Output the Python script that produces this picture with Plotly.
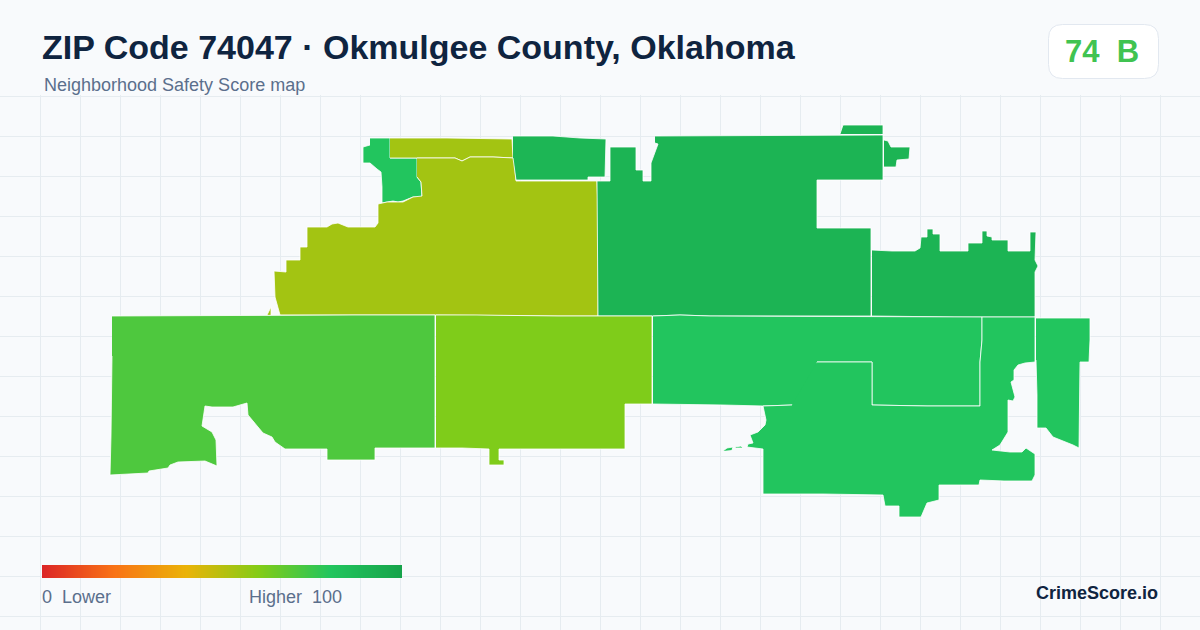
import plotly.graph_objects as go
from plotly.colors import sample_colorscale

# legend gradient, evenly spaced stops
scale_colors = ["#dc2626", "#f97316", "#eab308", "#84cc16", "#22c55e", "#16a34a"]
legend_scores = list(range(0, 101))

title_text = "ZIP Code 74047 · Okmulgee County, Oklahoma"
subtitle_text = "Neighborhood Safety Score map"
score_text = "74\u00a0\u00a0B"
brand_text = "CrimeScore.io"

# tract outlines
nw_x = [370, 390, 390, 417, 417, 421, 422, 413, 403, 398, 393, 382, 382, 381, 377, 370, 363, 363, 370]
nw_y = [138, 138, 158, 158, 177, 182, 197, 197, 201, 202, 201, 203, 187, 172, 169, 163, 163, 147, 145]

strip_x = [390, 447, 512, 513, 493, 470, 462, 455, 435, 417, 390]
strip_y = [138, 138, 139, 158, 157, 157, 161, 158, 158, 158, 158]

main_x = [417, 435, 455, 462, 470, 493, 514, 516, 597, 598, 598, 557, 477, 435, 357, 280, 275, 274, 286, 286,
          300, 300, 307, 307, 327, 332, 338, 348, 375, 378, 378, 387, 398, 403, 413, 422, 421, 417]
main_y = [158, 158, 158, 161, 157, 157, 158, 181, 181, 210, 316, 316, 315, 315, 315, 315, 297, 271, 272, 260,
          260, 247, 247, 227, 227, 224, 223, 227, 227, 223, 204, 202, 202, 202, 197, 196, 182, 177]

sliver_x = [267, 271, 271]
sliver_y = [315, 307, 315]

north_mid_x = [513, 553, 580, 606, 605, 588, 588, 516, 513]
north_mid_y = [136, 136, 138, 139, 177, 177, 180, 180, 158]

east_x = [655, 840, 883, 883, 817, 817, 871, 871, 710, 680, 653, 598, 597, 597, 610, 610, 636, 636, 643, 643, 651, 651, 658, 655]
east_y = [136, 135, 135, 180, 180, 228, 228, 316, 316, 315, 316, 316, 210, 181, 181, 147, 147, 170, 170, 181, 181, 163, 144, 143]

tab_x = [840, 843, 883, 883]
tab_y = [134, 125, 125, 134]

east_tab_x = [884, 888, 891, 910, 909, 897, 896, 884]
east_tab_y = [140, 141, 147, 147, 159, 160, 167, 167]

ne_x = [872, 892, 915, 920, 921, 927, 927, 933, 933, 940, 940, 968, 968, 982, 982, 987, 987, 992, 992, 1008,
        1008, 1030, 1030, 1036, 1035, 1038, 1035, 1035, 954, 872]
ne_y = [250, 251, 251, 248, 237, 237, 229, 229, 234, 234, 251, 251, 243, 243, 231, 231, 236, 237, 240, 240,
        251, 251, 232, 232, 260, 266, 272, 317, 317, 316]

sw_x = [112, 268, 355, 435, 435, 405, 375, 375, 327, 327, 292, 285, 275, 272, 263, 255, 248, 247, 233, 220, 212, 205,
        203, 202, 212, 216, 217, 205, 178, 170, 168, 149, 148, 130, 110, 111, 112]
sw_y = [316, 315, 315, 315, 448, 448, 448, 460, 460, 449, 449, 449, 442, 437, 433, 424, 415, 403, 407, 407, 407, 406,
        417, 426, 432, 440, 466, 461, 462, 465, 468, 471, 473, 474, 475, 436, 356]

mid_south_x = [436, 476, 558, 652, 652, 625, 625, 499, 499, 504, 504, 489, 489, 462, 436]
mid_south_y = [315, 315, 316, 316, 404, 404, 449, 449, 460, 460, 465, 465, 449, 448, 448]

se_top_x = [653, 680, 710, 982, 982, 980, 980, 927, 872, 872, 817, 817, 792, 763, 723, 653]
se_top_y = [316, 315, 316, 317, 340, 362, 406, 406, 405, 362, 362, 405, 405, 406, 405, 404]

se_big_x = [817, 872, 872, 927, 980, 980, 982, 982, 1035, 1035, 1025, 1018, 1014, 1014, 1011, 1015, 1013, 1008, 1008,
            1000, 992, 1010, 1022, 1026, 1035, 1035, 1032, 1004, 980, 979, 939, 939, 927, 921, 899, 899, 885, 883, 823,
            763, 763, 747, 748, 753, 750, 758, 765, 766, 763, 792]
se_big_y = [362, 362, 405, 406, 406, 362, 340, 317, 317, 362, 363, 365, 370, 380, 382, 397, 401, 400, 432,
            445, 450, 452, 452, 448, 454, 475, 481, 481, 480, 485, 485, 500, 503, 517, 517, 506, 506, 495, 494,
            494, 449, 447, 444, 443, 435, 432, 425, 420, 406, 405]

islet_a_x = [723, 727, 733, 732]
islet_a_y = [451, 448, 447, 450]

islet_b_x = [735, 741, 743, 737]
islet_b_y = [447, 446, 448, 448]

far_east_x = [1036, 1090, 1090, 1089, 1080, 1079, 1073, 1053, 1046, 1037, 1037, 1036]
far_east_y = [318, 318, 340, 362, 362, 448, 445, 437, 428, 428, 395, 360]

regions = [
    (nw_x, nw_y, 80),
    (strip_x, strip_y, 54),
    (main_x, main_y, 54),
    (sliver_x, sliver_y, 54),
    (north_mid_x, north_mid_y, 89),
    (east_x, east_y, 90),
    (tab_x, tab_y, 90),
    (east_tab_x, east_tab_y, 90),
    (ne_x, ne_y, 90),
    (sw_x, sw_y, 71),
    (mid_south_x, mid_south_y, 61),
    (se_top_x, se_top_y, 80),
    (se_big_x, se_big_y, 80),
    (islet_a_x, islet_a_y, 80),
    (islet_b_x, islet_b_y, 80),
    (far_east_x, far_east_y, 80),
]

W = 1200
H = 630


def px(x):
    return x / W


def py(y):
    return 1 - y / H


fig = go.Figure()

for xs, ys, score in regions:
    color = sample_colorscale(scale_colors, [score / 100])[0]
    fig.add_trace(go.Scatter(x=xs, y=ys, mode="lines", fill="toself", fillcolor=color,
                             line=dict(color="#ffffff", width=0.8), hoverinfo="skip", showlegend=False))

# gradient bar for the legend
fig.add_trace(go.Heatmap(z=[legend_scores], x=legend_scores, y=[0], zmin=0, zmax=100,
                         colorscale=[[i / 5, c] for i, c in enumerate(scale_colors)],
                         showscale=False, hoverinfo="skip", xaxis="x2", yaxis="y2", zsmooth="best"))

fig.update_layout(
    width=W, height=H,
    margin=dict(l=0, r=0, t=0, b=0),
    paper_bgcolor="#f8fafc",
    plot_bgcolor="#f8fafc",
    showlegend=False,
    xaxis=dict(range=[0, W], domain=[0, 1], tick0=0.5, dtick=40, showgrid=True, gridcolor="#e6ecf0", gridwidth=1,
               zeroline=False, showticklabels=False, ticks="", showline=False),
    yaxis=dict(range=[H, 95], domain=[0, py(95)], tick0=96.5, dtick=40, showgrid=True, gridcolor="#e6ecf0", gridwidth=1,
               zeroline=False, showticklabels=False, ticks="", showline=False),
    xaxis2=dict(domain=[px(42), px(402)], range=[0, 100], visible=False, anchor="y2"),
    yaxis2=dict(domain=[py(578), py(565)], range=[-0.5, 0.5], visible=False, anchor="x2"),
)

# score badge, rounded corners
bx0, bx1, by0, by1, br = 1048.5, 1158.5, 24.5, 78.5, 14
badge_path = (
    f"M {px(bx0 + br)} {py(by0)} L {px(bx1 - br)} {py(by0)} Q {px(bx1)} {py(by0)} {px(bx1)} {py(by0 + br)} "
    f"L {px(bx1)} {py(by1 - br)} Q {px(bx1)} {py(by1)} {px(bx1 - br)} {py(by1)} "
    f"L {px(bx0 + br)} {py(by1)} Q {px(bx0)} {py(by1)} {px(bx0)} {py(by1 - br)} "
    f"L {px(bx0)} {py(by0 + br)} Q {px(bx0)} {py(by0)} {px(bx0 + br)} {py(by0)} Z"
)
fig.add_shape(type="path", path=badge_path, xref="paper", yref="paper", fillcolor="#ffffff",
              line=dict(color="#e2e8f0", width=1))


def label(x, y, text, size, color, bold=False, anchor="left"):
    fig.add_annotation(x=px(x), y=py(y), xref="paper", yref="paper", text=f"<b>{text}</b>" if bold else text,
                       showarrow=False, xanchor=anchor, yanchor="middle", align=anchor,
                       font=dict(family="Liberation Sans", size=size, color=color), borderpad=0, borderwidth=0)


label(42, 47, title_text, 34, "#0f2440", bold=True)
label(44, 85, subtitle_text, 18, "#5b6f8c")
label(1102, 51, score_text, 31, "#40c351", bold=True, anchor="center")
label(42, 597, "0\u00a0\u00a0Lower", 18, "#5b6f8c")
label(249, 597, "Higher\u00a0\u00a0100", 18, "#5b6f8c")
label(1158, 593, brand_text, 18, "#0f2440", bold=True, anchor="right")

# browsers put an 8px margin on the body, drop it so the figure fills the window
fig.write_html("out.html", config=dict(displayModeBar=False),
               post_script="document.body.style.margin='0';document.body.style.background='#f8fafc';")
